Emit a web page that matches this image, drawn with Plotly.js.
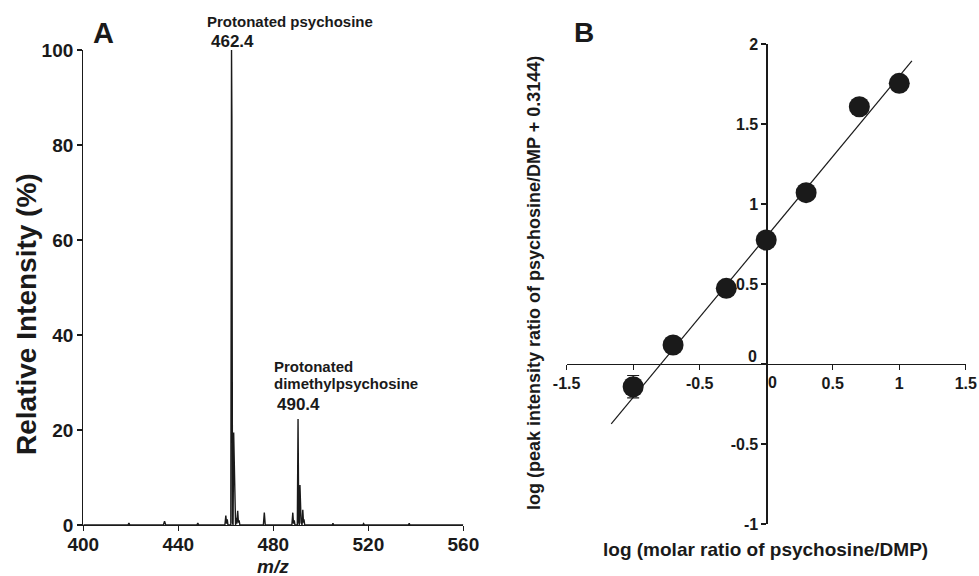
<!DOCTYPE html>
<html>
<head>
<meta charset="utf-8">
<script src="https://cdn.plot.ly/plotly-3.0.1.min.js"></script>
<style>html,body{margin:0;padding:0;background:#fff;}#chart{width:979px;height:576px;}</style>
</head>
<body>
<div id="chart"></div>
<script>
// Panel A: ESI mass spectrum (m/z vs relative intensity, %)
const specMz  = [400, 418.8, 419.2, 419.6, 433.7, 434.2, 434.7, 447.8, 448.2, 448.6,
                 459.6, 460.0, 460.3, 460.6, 460.9,
                 462.1, 462.4, 462.55, 462.8, 463.05, 463.3, 463.55, 463.8, 464.1, 464.4, 464.6, 465.0, 465.3, 465.6, 465.9,
                 475.8, 476.2, 476.6,
                 487.8, 488.2, 488.5, 488.8, 489.1,
                 490.1, 490.4, 490.7, 490.95, 491.2, 491.45, 491.7, 492.1, 492.4, 492.7, 492.9, 493.2,
                 504.8, 505.1, 505.4, 517.6, 518.0, 518.4, 536.9, 537.2, 537.5, 560];
const specInt = [0, 0, 0.4, 0, 0, 0.8, 0, 0, 0.4, 0,
                 0, 2.0, 0.3, 1.2, 0,
                 0, 100, 86, 0.5, 0, 19.5, 10, 0.5, 0, 1.5, 0.3, 3.0, 0.5, 1.0, 0,
                 0, 2.6, 0,
                 0, 2.6, 0.3, 1.0, 0,
                 0, 22.3, 0.5, 0, 8.4, 4.0, 0.5, 0, 3.2, 0.5, 1.2, 0,
                 0, 0.4, 0, 0, 0.3, 0, 0, 0.4, 0, 0];
const mzTicks  = [400, 440, 480, 520, 560];
const intTicks = [0, 20, 40, 60, 80, 100];

// Panel B: calibration (log molar ratio vs log peak intensity ratio)
const ratioX   = [-1.0, -0.7, -0.3, 0.0, 0.3, 0.7, 1.0];
const ratioY   = [-0.142, 0.119, 0.473, 0.775, 1.071, 1.608, 1.754];
const ratioErr = [0.07, 0, 0, 0, 0, 0, 0];
const fitX     = [-1.165, 1.095];
const fitY     = [-0.375, 1.894];
const bXTicks  = [-1.5, -1, -0.5, 0, 0.5, 1, 1.5];
const bXText   = ['-1.5', '', '-0.5', '', '0.5', '1', '1.5'];
const bYTicks  = [-1, -0.5, 0, 0.5, 1, 1.5, 2];
const bYText   = ['-1', '-0.5', '', '0.5', '1', '1.5', '2'];

const FONT = 'Liberation Sans, Arial, Helvetica, sans-serif';
const INK = '#1a1a1a';

const traces = [
  {x: specMz, y: specInt, type: 'scatter', mode: 'lines', xaxis: 'x', yaxis: 'y',
   line: {color: INK, width: 1.4}, hoverinfo: 'skip', showlegend: false, cliponaxis: false},
  {x: fitX, y: fitY, type: 'scatter', mode: 'lines', xaxis: 'x2', yaxis: 'y2',
   line: {color: INK, width: 1.2}, showlegend: false},
  {x: ratioX, y: ratioY, type: 'scatter', mode: 'markers', xaxis: 'x2', yaxis: 'y2',
   marker: {size: 21, color: INK},
   error_y: {type: 'data', array: ratioErr, visible: true, color: INK, thickness: 1.2, width: 6},
   showlegend: false, cliponaxis: false}
];

const axisCommon = {
  showgrid: false, zeroline: false, showline: true, linecolor: INK, linewidth: 1.2,
  ticks: 'outside', ticklen: 5, tickwidth: 1.2, tickcolor: INK, fixedrange: true,
  automargin: false, tickmode: 'array'
};

const layout = {
  width: 979, height: 576, autosize: false,
  margin: {l: 0, r: 0, t: 0, b: 0},
  paper_bgcolor: '#fff', plot_bgcolor: 'rgba(0,0,0,0)',
  font: {family: FONT, color: INK},
  showlegend: false,
  xaxis: Object.assign({}, axisCommon, {
    domain: [0.0851, 0.4733], range: [400, 560], anchor: 'y', ticklabelstandoff: -3,
    tickvals: mzTicks, tickfont: {size: 19, weight: 'bold', family: FONT, color: INK}
  }),
  yaxis: Object.assign({}, axisCommon, {
    domain: [0.0885, 0.9132], range: [0, 100], anchor: 'x',
    tickvals: intTicks, tickfont: {size: 19, weight: 'bold', family: FONT, color: INK}
  }),
  xaxis2: Object.assign({}, axisCommon, {
    domain: [0.5788, 0.9865], range: [-1.5, 1.5], anchor: 'free', position: 0.3681,
    tickvals: bXTicks, ticktext: bXText, tickfont: {size: 16, weight: 'bold', family: FONT, color: INK}
  }),
  yaxis2: Object.assign({}, axisCommon, {
    domain: [0.0903, 0.9236], range: [-1, 2], anchor: 'free', position: 0.7829,
    tickvals: bYTicks, ticktext: bYText, tickfont: {size: 16, weight: 'bold', family: FONT, color: INK}
  }),
  annotations: [
    {text: '<b>A</b>', xref: 'paper', yref: 'paper', x: 103/979, y: 1 - 33/576, showarrow: false,
     font: {size: 29, family: FONT, color: INK}, xanchor: 'center', yanchor: 'middle'},
    {text: '<b>B</b>', xref: 'paper', yref: 'paper', x: 584/979, y: 1 - 32/576, showarrow: false,
     font: {size: 28, family: FONT, color: INK}, xanchor: 'center', yanchor: 'middle'},
    {text: '<b>Protonated psychosine</b>', xref: 'paper', yref: 'paper', x: 205/979, y: 1 - 22/576,
     showarrow: false, font: {size: 15, family: FONT, color: INK}, xanchor: 'left', yanchor: 'middle'},
    {text: '<b>462.4</b>', xref: 'paper', yref: 'paper', x: 209/979, y: 1 - 41/576,
     showarrow: false, font: {size: 17, family: FONT, color: INK}, xanchor: 'left', yanchor: 'middle'},
    {text: '<b>Protonated</b>', xref: 'paper', yref: 'paper', x: 272/979, y: 1 - 366/576,
     showarrow: false, font: {size: 15, family: FONT, color: INK}, xanchor: 'left', yanchor: 'middle'},
    {text: '<b>dimethylpsychosine</b>', xref: 'paper', yref: 'paper', x: 272/979, y: 1 - 383/576,
     showarrow: false, font: {size: 15, family: FONT, color: INK}, xanchor: 'left', yanchor: 'middle'},
    {text: '<b>490.4</b>', xref: 'paper', yref: 'paper', x: 275/979, y: 1 - 404/576,
     showarrow: false, font: {size: 17, family: FONT, color: INK}, xanchor: 'left', yanchor: 'middle'},
    {text: '<b>Relative Intensity (%)</b>', xref: 'paper', yref: 'paper', x: 26/979, y: 1 - 314/576,
     showarrow: false, textangle: -90, font: {size: 28, family: FONT, color: INK},
     xanchor: 'center', yanchor: 'middle'},
    {text: '<b><i>m/z</i></b>', xref: 'paper', yref: 'paper', x: 273/979, y: 1 - 566/576,
     showarrow: false, font: {size: 19, family: FONT, color: INK}, xanchor: 'center', yanchor: 'middle'},
    {text: '<b>0</b>', xref: 'paper', yref: 'paper', x: 772/979, y: 1 - 382/576,
     showarrow: false, font: {size: 16, family: FONT, color: INK}, xanchor: 'center', yanchor: 'middle'},
    {text: '<b>0</b>', xref: 'paper', yref: 'paper', x: 759/979, y: 1 - 356/576,
     showarrow: false, font: {size: 16, family: FONT, color: INK}, xanchor: 'right', yanchor: 'middle'},
    {text: '<b>log (peak intensity ratio of psychosine/DMP + 0.3144)</b>', xref: 'paper', yref: 'paper',
     x: 534/979, y: 1 - 283/576, showarrow: false, textangle: -90,
     font: {size: 18, family: FONT, color: INK}, xanchor: 'center', yanchor: 'middle'},
    {text: '<b>log (molar ratio of psychosine/DMP)</b>', xref: 'paper', yref: 'paper',
     x: 765/979, y: 1 - 549/576, showarrow: false,
     font: {size: 19, family: FONT, color: INK}, xanchor: 'center', yanchor: 'middle'}
  ]
};

Plotly.newPlot('chart', traces, layout, {staticPlot: true, displayModeBar: false});
</script>
</body>
</html>
